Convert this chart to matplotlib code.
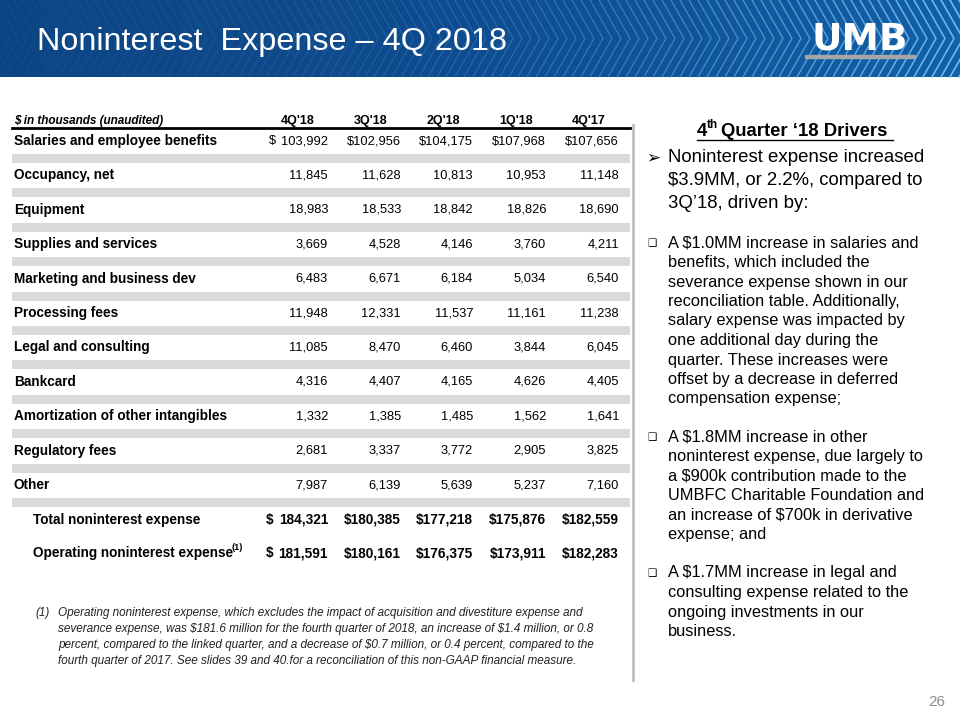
import matplotlib.pyplot as plt
import matplotlib.colors as mcolors
import numpy as np
from matplotlib.patches import Rectangle

plt.rcParams['font.family'] = ['Liberation Sans', 'DejaVu Sans']
plt.rcParams['text.parse_math'] = False

# table data ($ in thousands)
quarters = ["4Q'18", "3Q'18", "2Q'18", "1Q'18", "4Q'17"]
categories = ['Salaries and employee benefits', 'Occupancy, net', 'Equipment',
              'Supplies and services', 'Marketing and business dev', 'Processing fees',
              'Legal and consulting', 'Bankcard', 'Amortization of other intangibles',
              'Regulatory fees', 'Other']
values = [
    [103992, 102956, 104175, 107968, 107656],
    [11845, 11628, 10813, 10953, 11148],
    [18983, 18533, 18842, 18826, 18690],
    [3669, 4528, 4146, 3760, 4211],
    [6483, 6671, 6184, 5034, 6540],
    [11948, 12331, 11537, 11161, 11238],
    [11085, 8470, 6460, 3844, 6045],
    [4316, 4407, 4165, 4626, 4405],
    [1332, 1385, 1485, 1562, 1641],
    [2681, 3337, 3772, 2905, 3825],
    [7987, 6139, 5639, 5237, 7160],
]
total_expense = [184321, 180385, 177218, 175876, 182559]
operating_expense = [181591, 180161, 176375, 173911, 182283]

footnote = ["Operating noninterest expense, which excludes the impact of acquisition and divestiture expense and",
            "severance expense, was $181.6 million for the fourth quarter of 2018, an increase of $1.4 million, or 0.8",
            "percent, compared to the linked quarter, and a decrease of $0.7 million, or 0.4 percent, compared to the",
            "fourth quarter of 2017. See slides 39 and 40.for a reconciliation of this non-GAAP financial measure."]

headline = ['Noninterest expense increased', '$3.9MM, or 2.2%, compared to', '3Q\u201918, driven by:']
bullets = [
    ['A $1.0MM increase in salaries and', 'benefits, which included the',
     'severance expense shown in our', 'reconciliation table. Additionally,',
     'salary expense was impacted by', 'one additional day during the',
     'quarter. These increases were', 'offset by a decrease in deferred',
     'compensation expense;'],
    ['A $1.8MM increase in other', 'noninterest expense, due largely to',
     'a $900k contribution made to the', 'UMBFC Charitable Foundation and',
     'an increase of $700k in derivative', 'expense; and'],
    ['A $1.7MM increase in legal and', 'consulting expense related to the',
     'ongoing investments in our', 'business.'],
]

fig = plt.figure(figsize=(9.6, 7.2), dpi=100)
ax = fig.add_axes([0, 0, 1, 1])

# header banner
grad = np.linspace(0, 1, 200)[None, :]
cmap = mcolors.LinearSegmentedColormap.from_list('b', ['#0d4584', '#0f4d90', '#1360a8'])
ax.imshow(grad, extent=[0, 960, 77, 0], cmap=cmap, aspect='auto', zorder=0)
for x0 in np.arange(-40, 960, 9):
    t = max(0.0, x0 / 960) ** 1.5
    col = np.array([0.16, 0.42, 0.72]) * (1 - t) + np.array([0.50, 0.82, 0.98]) * t
    ax.plot([x0, x0 + 22, x0], [0, 38.5, 77], color=col, lw=0.5 + 0.7 * t,
            alpha=0.3 + 0.55 * t, zorder=1)
ax.set_xlim(0, 960)
ax.set_ylim(720, 0)
ax.axis('off')
ax.text(37, 42, 'Noninterest  Expense \u2013 4Q 2018', color='white', fontsize=23.3,
        va='center', ha='left', zorder=3)
ax.text(860, 39, 'UMB', color='white', fontsize=27, fontweight='heavy',
        family='DejaVu Sans', ha='center', va='center', zorder=3)
ax.add_patch(Rectangle((805, 55), 110, 3, color='#a6a6a6', zorder=3))

# table
col_right = [328, 401, 473, 546, 619]
ax.text(14, 121, '$ in thousands (unaudited)', fontsize=8.5, fontstyle='italic', fontweight='bold', va='center')
for q, xr in zip(quarters, col_right):
    ax.text(xr - 30, 121, q, fontsize=9, fontweight='bold', ha='center', va='center')
ax.plot([12, 630], [128, 128], color='black', lw=2)

row_y = [141 + 34.4 * i for i in range(len(categories))]
for i, (cat, y) in enumerate(zip(categories, row_y)):
    ax.text(14, y, cat, fontsize=9.8, fontweight='bold', va='center')
    ax.add_patch(Rectangle((12, y + 13), 618, 9, color='#d9d9d9', lw=0))
    for j, (v, xr) in enumerate(zip(values[i], col_right)):
        s = f'{v:,}'
        if i == 0:
            if j == 0:
                ax.text(269, y, '$', fontsize=9.3, va='center')
            else:
                s = '$' + s
        ax.text(xr, y, s, fontsize=9.3, ha='right', va='center')

for y, lab, vals in [(520, 'Total noninterest expense', total_expense),
                     (553, 'Operating noninterest expense', operating_expense)]:
    ax.text(33, y, lab, fontsize=9.8, fontweight='bold', va='center')
    for j, (v, xr) in enumerate(zip(vals, col_right)):
        if j == 0:
            ax.text(266, y, '$', fontsize=9.8, fontweight='bold', va='center')
            ax.text(xr, y, f'{v:,}', fontsize=9.8, fontweight='bold', ha='right', va='center')
        else:
            ax.text(xr, y, f'${v:,}', fontsize=9.8, fontweight='bold', ha='right', va='center')
ax.text(232, 547, '(1)', fontsize=6.5, fontweight='bold', va='center')

ax.text(35, 613, '(1)', fontsize=8.45, fontstyle='italic', va='center', color='#222222')
for k, line in enumerate(footnote):
    ax.text(58, 613 + 16 * k, line, fontsize=8.45, fontstyle='italic', va='center', color='#222222')

# right panel
ax.plot([633, 633], [125, 680], color='#bfbfbf', lw=2)
ax.text(697, 131, '4', fontsize=13.3, fontweight='bold', ha='left', va='center')
ax.text(707, 125, 'th', fontsize=8.5, fontweight='bold', ha='left', va='center')
ax.text(721, 131, 'Quarter \u201818 Drivers', fontsize=13.3, fontweight='bold', ha='left', va='center')
ax.plot([697, 893], [140, 140], color='black', lw=1)
ax.text(646, 158, '\u27a2', fontsize=12, va='center')
for k, line in enumerate(headline):
    ax.text(668, 158 + 22.5 * k, line, fontsize=13.4, va='center')
starts = [243, 437, 573]
for b, y0 in zip(bullets, starts):
    ax.text(647, y0, '\u2751', fontsize=7.5, va='center')
    for k, line in enumerate(b):
        ax.text(668, y0 + 19.5 * k, line, fontsize=11.8, va='center')

ax.text(945, 702, '26', fontsize=11, color='#8c8c8c', ha='right', va='center')

plt.savefig('out.png', dpi=100)
